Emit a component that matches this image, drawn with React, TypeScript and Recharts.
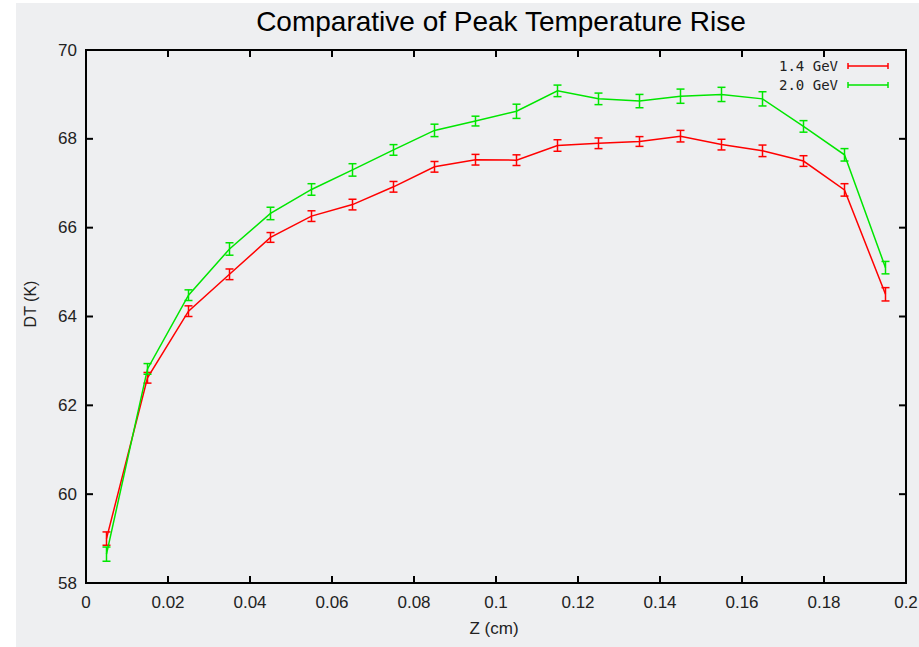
import React from 'react';
import {
  LineChart,
  Line,
  XAxis,
  YAxis,
  ErrorBar,
  ReferenceArea,
  Legend,
  Customized,
} from 'recharts';

// Z position (cm) of each sample
const Z = [
  0.005, 0.015, 0.025, 0.035, 0.045, 0.055, 0.065, 0.075, 0.085, 0.095,
  0.105, 0.115, 0.125, 0.135, 0.145, 0.155, 0.165, 0.175, 0.185, 0.195,
];

// peak temperature rise (K), 1.4 GeV beam
const DT_14 = [
  59.0, 62.62, 64.12, 64.95, 65.78, 66.26, 66.52, 66.92, 67.37, 67.53,
  67.52, 67.85, 67.9, 67.94, 68.06, 67.87, 67.73, 67.5, 66.85, 64.5,
];
const ERR_14 = [
  0.15, 0.12, 0.12, 0.12, 0.11, 0.12, 0.12, 0.12, 0.12, 0.12,
  0.12, 0.13, 0.12, 0.11, 0.13, 0.12, 0.13, 0.12, 0.14, 0.15,
];

// peak temperature rise (K), 2.0 GeV beam
const DT_20 = [
  58.65, 62.82, 64.48, 65.52, 66.32, 66.86, 67.3, 67.75, 68.19, 68.4,
  68.62, 69.08, 68.9, 68.85, 68.96, 69.0, 68.9, 68.28, 67.64, 65.1,
];
const ERR_20 = [
  0.16, 0.12, 0.12, 0.14, 0.14, 0.13, 0.14, 0.12, 0.14, 0.11,
  0.16, 0.13, 0.13, 0.15, 0.16, 0.16, 0.16, 0.13, 0.14, 0.14,
];

const X_TICKS = [0, 0.02, 0.04, 0.06, 0.08, 0.1, 0.12, 0.14, 0.16, 0.18, 0.2];
const Y_TICKS = [58, 60, 62, 64, 66, 68, 70];

const SERIES = [
  { key: 'dt14', err: 'err14', name: '1.4 GeV', color: '#ff0000' },
  { key: 'dt20', err: 'err20', name: '2.0 GeV', color: '#00e600' },
];

const data = Z.map((z, i) => ({
  z,
  dt14: DT_14[i],
  err14: ERR_14[i],
  dt20: DT_20[i],
  err20: ERR_20[i],
}));

// layout
const W = 919;
const H = 647;
const PLOT_LEFT = 86;
const PLOT_RIGHT = 906;
const PLOT_TOP = 50;
const PLOT_BOTTOM = 583;
const TICK_LEN = 7;
const FONT = '"Liberation Sans", Arial, sans-serif';
const TEXT = '#222';

const fmtX = (v: number) => String(Number(v.toFixed(2)));

function XTick(props: any) {
  const { x, payload } = props;
  return (
    <g>
      <line x1={x} y1={PLOT_BOTTOM} x2={x} y2={PLOT_BOTTOM - TICK_LEN} stroke="#000" strokeWidth={2} />
      <line x1={x} y1={PLOT_TOP} x2={x} y2={PLOT_TOP + TICK_LEN} stroke="#000" strokeWidth={2} />
      <text x={x} y={602} textAnchor="middle" dominantBaseline="central"
        fontFamily={FONT} fontSize={17} fill={TEXT}>
        {fmtX(payload.value)}
      </text>
    </g>
  );
}

function YTick(props: any) {
  const { y, payload } = props;
  return (
    <g>
      <line x1={PLOT_LEFT} y1={y} x2={PLOT_LEFT + TICK_LEN} y2={y} stroke="#000" strokeWidth={2} />
      <line x1={PLOT_RIGHT} y1={y} x2={PLOT_RIGHT - TICK_LEN} y2={y} stroke="#000" strokeWidth={2} />
      <text x={77} y={y} textAnchor="end" dominantBaseline="central"
        fontFamily={FONT} fontSize={17} fill={TEXT}>
        {payload.value}
      </text>
    </g>
  );
}

function Texts() {
  return (
    <g>
      <text x={501} y={21} textAnchor="middle" dominantBaseline="central"
        fontFamily={FONT} fontSize={28} fill="#000">
        Comparative of Peak Temperature Rise
      </text>
      <text x={494} y={628} textAnchor="middle" dominantBaseline="central"
        fontFamily={FONT} fontSize={17} fill={TEXT}>
        Z (cm)
      </text>
      <text x={30} y={304} textAnchor="middle" dominantBaseline="central"
        fontFamily={FONT} fontSize={16} fill={TEXT} transform="rotate(-90 30 304)">
        DT (K)
      </text>
    </g>
  );
}

function LegendBox() {
  return (
    <svg width={135} height={40} style={{ display: 'block' }}>
      {SERIES.map((s, i) => {
        const y = 8 + i * 19;
        return (
          <g key={s.key}>
            <text x={62} y={y} textAnchor="end" dominantBaseline="central"
              fontFamily='"DejaVu Sans Mono", monospace' fontSize={14} fill={TEXT}>
              {s.name}
            </text>
            <line x1={72} y1={y} x2={112} y2={y} stroke={s.color} strokeWidth={1.5} />
            <line x1={72} y1={y - 3} x2={72} y2={y + 3} stroke={s.color} strokeWidth={1.5} />
            <line x1={112} y1={y - 3} x2={112} y2={y + 3} stroke={s.color} strokeWidth={1.5} />
          </g>
        );
      })}
    </svg>
  );
}

export default function App() {
  return (
    <div style={{ position: 'absolute', left: 0, top: 0, width: W, height: H, background: '#fff' }}>
      <div style={{ position: 'absolute', left: 16, top: 3, width: W - 16, height: H - 3, background: '#eeeff1' }} />
      <div style={{ position: 'absolute', left: 0, top: 0 }}>
        <LineChart
          width={W}
          height={H}
          data={data}
          margin={{ top: PLOT_TOP, right: W - PLOT_RIGHT, bottom: 0, left: 0 }}
        >
          <XAxis
            dataKey="z"
            type="number"
            domain={[0, 0.2]}
            ticks={X_TICKS}
            height={H - PLOT_BOTTOM}
            axisLine={false}
            tickLine={false}
            tick={<XTick />}
            interval={0}
          />
          <YAxis
            type="number"
            domain={[58, 70]}
            ticks={Y_TICKS}
            width={PLOT_LEFT}
            axisLine={false}
            tickLine={false}
            tick={<YTick />}
            interval={0}
          />
          <ReferenceArea x1={0} x2={0.2} y1={58} y2={70} fill="none" stroke="#000" strokeWidth={2} ifOverflow="visible" />
          {SERIES.map((s) => (
            <Line
              key={s.key}
              type="linear"
              dataKey={s.key}
              name={s.name}
              stroke={s.color}
              strokeWidth={1.5}
              dot={false}
              isAnimationActive={false}
            >
              <ErrorBar dataKey={s.err} direction="y" width={4} stroke={s.color} strokeWidth={1.5} isAnimationActive={false} />
            </Line>
          ))}
          <Legend
            layout="horizontal"
            verticalAlign="middle"
            align="center"
            content={<LegendBox />}
            wrapperStyle={{ position: 'absolute', top: 58, left: 776, width: 135, height: 40 }}
          />
          <Customized component={Texts} />
        </LineChart>
      </div>
    </div>
  );
}
